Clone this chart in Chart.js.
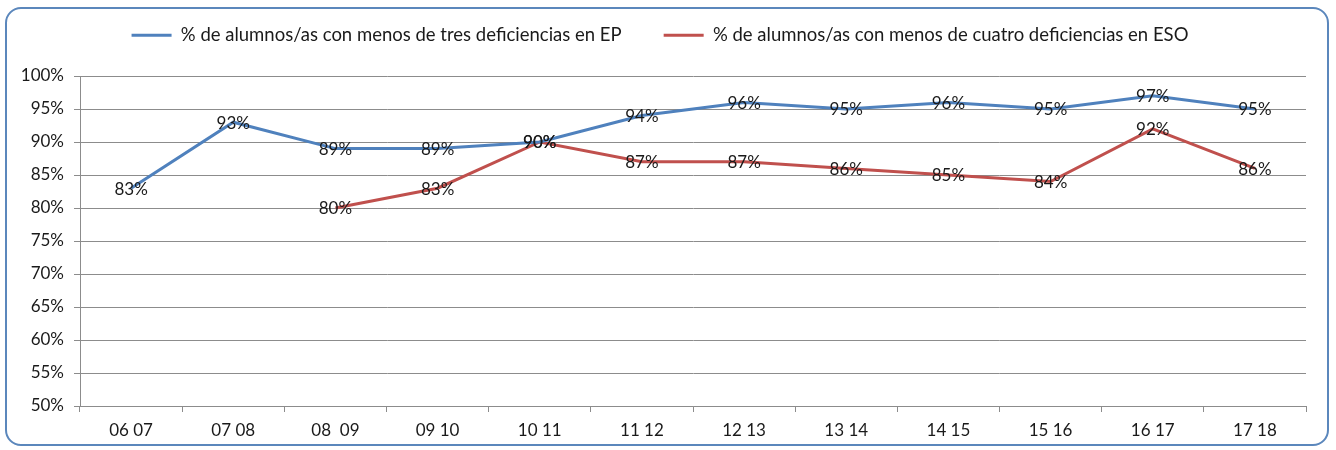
<!DOCTYPE html>
<html>
<head>
<meta charset="utf-8">
<script src="https://cdn.jsdelivr.net/npm/chart.js@4.4.1/dist/chart.umd.min.js"></script>
<style>
  html, body { margin: 0; padding: 0; background: #fff; }
  #wrap { position: relative; width: 1336px; height: 450px; }
  #frame { position: absolute; left: 5px; top: 7px; width: 1320px; height: 435px;
           border: 2px solid #5b87bc; border-radius: 16px; pointer-events: none; }
  canvas { position: absolute; left: 0; top: 0; }
</style>
</head>
<body>
<div id="wrap">
  <canvas id="myChart" width="1336" height="450"></canvas>
  <div id="frame"></div>
</div>
<script>
var courses = ["06 07", "07 08", "08  09", "09 10", "10 11", "11 12",
               "12 13", "13 14", "14 15", "15 16", "16 17", "17 18"];
var epValues = [83, 93, 89, 89, 90, 94, 96, 95, 96, 95, 97, 95];
var esoValues = [null, null, 80, 83, 90, 87, 87, 86, 85, 84, 92, 86];
var epLabel = "% de alumnos/as con menos de tres deficiencias en EP";
var esoLabel = "% de alumnos/as con menos de cuatro deficiencias en ESO";

var fontName = "Lato, 'Open Sans', sans-serif";

// labels with the value, centred on each point like excel does
var pointLabels = {
  id: 'pointLabels',
  afterDatasetsDraw: function(chart) {
    var ctx = chart.ctx;
    ctx.save();
    ctx.font = "17px " + fontName;
    ctx.fillStyle = "#1a1a1a";
    ctx.textAlign = "center";
    ctx.textBaseline = "middle";
    chart.data.datasets.forEach(function(ds, i) {
      chart.getDatasetMeta(i).data.forEach(function(pt, j) {
        if (ds.data[j] == null) return;
        ctx.fillText(ds.data[j] + "%", pt.x, pt.y + 1);
      });
    });
    ctx.restore();
  }
};

// keep the legend up at the top and the plot box where the reference has it
var legendPlace = {
  id: 'legendPlace',
  beforeLayout: function(chart) {
    var lg = chart.legend;
    if (!lg || lg._patched) return;
    var fit = lg.fit;
    lg.fit = function() {
      fit.call(this);
      this.height = 76;
    };
    lg._patched = true;
  },
  afterLayout: function(chart) {
    chart.legend.top = -16;
  }
};

function createChart() {
  var ctx = document.getElementById('myChart').getContext('2d');
  var chart = new Chart(ctx, {
    type: 'line',
    data: {
      labels: courses,
      datasets: [{
        label: epLabel,
        data: epValues,
        borderColor: '#4f81bd',
        backgroundColor: '#4f81bd',
        borderWidth: 3,
        pointRadius: 0,
        tension: 0
      }, {
        label: esoLabel,
        data: esoValues,
        borderColor: '#c0504d',
        backgroundColor: '#c0504d',
        borderWidth: 3,
        pointRadius: 0,
        tension: 0
      }]
    },
    options: {
      responsive: false,
      animation: false,
      layout: { padding: { left: 14, right: 30, top: 0, bottom: 8 } },
      plugins: {
        tooltip: { enabled: false },
        legend: {
          display: true,
          labels: {
            usePointStyle: true,
            pointStyle: 'line',
            pointStyleWidth: 40,
            boxHeight: 16,
            padding: 42,
            color: '#1a1a1a',
            font: { family: fontName, size: 18.5 }
          }
        }
      },
      scales: {
        x: {
          offset: true,
          grid: { offset: true, drawOnChartArea: false, drawTicks: true,
                  tickLength: 6, color: '#8c8c8c' },
          border: { display: true, color: '#8c8c8c' },
          ticks: { color: '#1a1a1a', padding: 8, maxRotation: 0,
                   font: { family: fontName, size: 17 } },
          afterFit: function(s) { s.height = 36; }
        },
        y: {
          min: 50,
          max: 100,
          ticks: { stepSize: 5, color: '#1a1a1a', padding: 10,
                   font: { family: fontName, size: 17 },
                   callback: function(v) { return v + "%"; } },
          grid: { color: '#8c8c8c', tickLength: 6 },
          border: { display: true, color: '#8c8c8c' },
          afterFit: function(s) { s.width = 66; }
        }
      }
    },
    plugins: [pointLabels, legendPlace]
  });
}

createChart();
</script>
</body>
</html>
